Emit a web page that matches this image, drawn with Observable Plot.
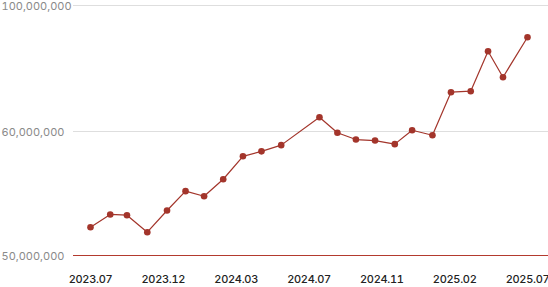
<!DOCTYPE html>
<html>
<head>
<meta charset="utf-8">
<script src="https://cdn.jsdelivr.net/npm/d3@7"></script>
<script src="https://cdn.jsdelivr.net/npm/@observablehq/plot@0.6"></script>
<style>
  html, body { margin: 0; padding: 0; background: #fff; }
  #chart svg { display: block; font-family: Inter, "Noto Sans", sans-serif; }
  #chart svg g[aria-label="x-axis tick label"] text { letter-spacing: -0.3px; }
</style>
</head>
<body>
<div id="chart"></div>
<script>
const dates = [
  "2023-07-01","2023-08-03","2023-08-31","2023-10-04","2023-11-06","2023-12-07",
  "2024-01-07","2024-02-08","2024-03-12","2024-04-12","2024-05-15","2024-07-18",
  "2024-08-17","2024-09-17","2024-10-19","2024-11-21","2024-12-20","2025-01-23",
  "2025-02-23","2025-03-28","2025-04-26","2025-05-21","2025-07-01"
];
const values = [
  52.28e6, 53.31e6, 53.25e6, 51.88e6, 53.63e6, 55.19e6,
  54.78e6, 56.15e6, 58.0e6, 58.4e6, 58.9e6, 64.54e6,
  59.9e6, 59.35e6, 59.27e6, 58.98e6, 60.41e6, 59.7e6,
  72.48e6, 72.8e6, 85.49e6, 77.24e6, 89.94e6
];
const xTickLabels = ["2023.07","2023.12","2024.03","2024.07","2024.11","2025.02","2025.07"];
const yTicks = [50e6, 60e6, 100e6];

const data = dates.map((d, i) => ({date: new Date(d + "T00:00:00Z"), value: values[i]}));
const d0 = data[0].date, d1 = data[data.length - 1].date;
const n = xTickLabels.length - 1;
const xTicks = xTickLabels.map((_, i) => new Date(+d0 + (d1 - d0) * i / n));

const color = "#a3352b";

const chart = Plot.plot({
  width: 548,
  height: 287,
  marginLeft: 73,
  marginRight: 0,
  marginTop: 5,
  marginBottom: 32,
  style: {fontFamily: "Inter, 'Noto Sans', sans-serif", background: "#fff"},
  x: {type: "utc", domain: [d0, d1], range: [90, 527]},
  y: {type: "linear", domain: yTicks, range: [255, 131, 5]},
  marks: [
    Plot.ruleY(yTicks.slice(1), {stroke: "#dedede", strokeWidth: 1}),
    Plot.ruleY([yTicks[0]], {stroke: "#b33a2e", strokeWidth: 1.2}),
    Plot.axisY({
      ticks: yTicks, tickSize: 0, tickPadding: 0,
      tickFormat: d => d3.format(",")(d),
      textAnchor: "start", dx: -72, dy: 1,
      fill: "#8a8a8a", fontSize: 11, label: null
    }),
    Plot.axisX({
      ticks: xTicks, tickSize: 0, tickPadding: 20,
      tickFormat: d => xTickLabels[xTicks.findIndex(t => +t === +d)],
      fill: "#222", fontSize: 11, fontWeight: 500, label: null
    }),
    Plot.line(data, {x: "date", y: "value", stroke: color, strokeWidth: 1.2}),
    Plot.dot(data, {x: "date", y: "value", r: 3.3, fill: color, stroke: "none"})
  ]
});
document.getElementById("chart").appendChild(chart);
</script>
</body>
</html>
